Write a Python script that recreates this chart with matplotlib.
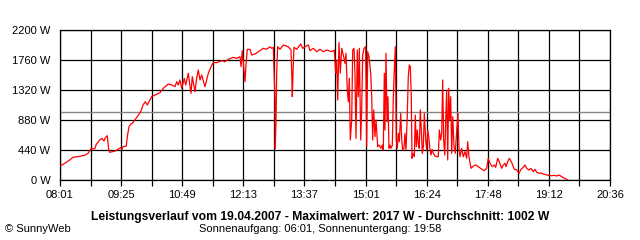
import matplotlib
matplotlib.use("Agg")
import matplotlib.pyplot as plt

plt.rcParams["font.family"] = ["Liberation Sans", "DejaVu Sans"]

# Zeit in Minuten seit Mitternacht, Leistung in W
time_min = [
    482.0, 487.5, 494.3, 498.8, 508.0, 514.9, 519.4, 524.0, 528.6, 530.8,
    535.5, 538.7, 541.4, 543.2, 545.9, 547.9, 549.2, 556.9, 560.6, 564.3,
    566.1, 567.5, 572.0, 573.4, 575.7, 578.1, 581.2, 584.4, 588.1, 590.4,
    592.6, 594.9, 598.1, 600.8, 606.9, 611.4, 618.3, 622.8, 629.7, 634.3,
    638.9, 641.2, 643.4, 645.7, 648.1, 651.6, 653.5, 657.1, 660.8, 662.6,
    666.3, 668.6, 670.8, 673.2, 675.5, 680.0, 684.6, 688.3, 691.4, 696.1,
    703.0, 707.5, 712.0, 718.9, 723.6, 728.1, 729.5, 731.2, 732.6, 735.0,
    736.3, 738.1, 741.8, 744.2, 748.7, 755.5, 760.1, 764.7, 769.3, 771.6,
    773.8, 776.1, 776.5, 777.5, 778.5, 779.8, 783.0, 787.5, 794.4, 798.1,
    799.1, 799.9, 800.8, 802.2, 805.9, 811.4, 814.2, 817.3, 821.8, 824.2,
    828.7, 833.4, 837.9, 842.4, 847.1, 853.9, 857.5, 859.5, 860.8, 862.2,
    864.0, 865.8, 867.7, 869.9, 872.2, 873.6, 875.4, 876.8, 878.1, 879.5,
    881.4, 882.8, 884.6, 885.9, 887.3, 889.1, 890.5, 891.9, 893.8, 895.1,
    896.5, 898.3, 900.6, 902.0, 903.4, 905.2, 907.5, 908.9, 910.2, 911.6,
    913.4, 914.8, 917.1, 918.9, 921.6, 923.4, 924.8, 926.2, 927.1, 928.5,
    929.9, 931.2, 932.6, 934.0, 935.4, 937.2, 938.5, 939.9, 941.3, 942.6,
    944.0, 945.4, 946.8, 948.7, 950.1, 951.4, 953.2, 954.6, 956.0, 957.7,
    959.1, 960.5, 961.9, 963.2, 964.2, 965.6, 967.4, 968.7, 970.1, 971.5,
    972.8, 974.2, 975.6, 977.0, 978.4, 979.7, 981.1, 983.0, 984.4, 985.8,
    987.1, 988.9, 990.3, 991.7, 993.5, 995.8, 998.1, 1000.3, 1001.7, 1003.6,
    1005.0, 1006.3, 1007.7, 1009.1, 1010.5, 1011.8, 1013.2, 1014.6, 1016.0, 1017.3,
    1018.7, 1020.1, 1021.9, 1023.6, 1025.6, 1027.3, 1028.7, 1030.1, 1032.4, 1034.6,
    1036.9, 1039.3, 1040.6, 1042.4, 1045.2, 1048.3, 1051.6, 1055.2, 1059.9, 1063.4,
    1066.7, 1068.9, 1071.3, 1074.4, 1077.2, 1079.1, 1081.8, 1084.0, 1087.3, 1089.5,
    1091.9, 1093.2, 1095.6, 1097.8, 1101.1, 1104.6, 1107.9, 1111.1, 1113.8, 1117.0,
    1119.3, 1121.6, 1124.8, 1127.6, 1130.7, 1133.0, 1135.4, 1138.5, 1141.3, 1144.4,
    1147.7, 1151.3, 1155.9, 1159.1, 1162.8, 1166.4, 1169.7, 1172.8, 1175.6, 1177.9,
]
power_w = [
    210, 245, 293, 333, 347, 362, 391, 465, 455, 523,
    587, 611, 572, 621, 650, 440, 406, 425, 450, 474,
    450, 489, 499, 635, 782, 817, 841, 890, 943, 978,
    1022, 1100, 1149, 1100, 1222, 1247, 1281, 1345, 1408, 1393,
    1369, 1442, 1393, 1467, 1345, 1491, 1393, 1565, 1271, 1516,
    1295, 1491, 1613, 1467, 1540, 1369, 1565, 1662, 1721, 1721,
    1750, 1735, 1770, 1799, 1784, 1809, 1662, 1897, 1735, 1442,
    1687, 1917, 1917, 1833, 1848, 1897, 1931, 1917, 1955, 1931,
    1946, 1183, 465, 855, 1589, 1955, 1917, 1980, 1955, 1907,
    1574, 1222, 1565, 1946, 1917, 1995, 1931, 1955, 1980, 1897,
    1931, 1882, 1917, 1882, 1907, 1882, 1907, 1565, 1760, 1173,
    2017, 1565, 1931, 1833, 1711, 1858, 1320, 1149, 1491, 587,
    880, 1907, 1931, 1565, 611, 1907, 1222, 1931, 587, 1027,
    1833, 1931, 1955, 489, 1882, 1809, 1565, 1222, 587, 1027,
    636, 880, 489, 513, 465, 513, 440, 1565, 733, 1858,
    855, 1222, 465, 513, 465, 513, 1198, 1613, 1955, 587,
    465, 685, 562, 978, 587, 440, 465, 685, 440, 953,
    1516, 1687, 1662, 1222, 318, 391, 342, 953, 489, 733,
    538, 465, 1027, 733, 391, 489, 978, 587, 440, 733,
    636, 440, 367, 450, 391, 352, 342, 342, 733, 587,
    685, 1467, 587, 367, 855, 1320, 293, 1345, 880, 1222,
    391, 929, 489, 391, 733, 978, 465, 342, 465, 342,
    416, 318, 562, 342, 171, 205, 220, 196, 157, 137,
    171, 318, 245, 196, 220, 186, 318, 269, 171, 220,
    245, 196, 269, 318, 254, 157, 147, 98, 157, 186,
    220, 171, 147, 171, 122, 157, 113, 98, 103, 88,
    78, 68, 63, 68, 59, 73, 49, 29, 15, 5,
]

x_start, x_end = 481, 1236
x_labels = ["08:01", "09:25", "10:49", "12:13", "13:37", "15:01",
            "16:24", "17:48", "19:12", "20:36"]
y_values = [0, 440, 880, 1320, 1760, 2200]
y_labels = ["0 W", "440 W", "880 W", "1320 W", "1760 W", "2200 W"]
average_w = 1002

fig = plt.figure(figsize=(6.4, 2.4), dpi=100)
ax = fig.add_axes([60 / 640, 60 / 240, 550 / 640, 150 / 240])

step = (x_end - x_start) / (len(x_labels) - 1)
major = [x_start + i * step for i in range(len(x_labels))]
minor = [x_start + (i + 0.5) * step for i in range(len(x_labels) - 1)]

ax.set_xlim(x_start, x_end)
ax.set_ylim(0, 2200)
ax.set_xticks(major)
ax.set_xticklabels(x_labels, fontsize=8)
ax.set_xticks(minor, minor=True)
ax.set_yticks(y_values)
ax.set_yticklabels(y_labels, fontsize=8)

ax.grid(True, which="both", color="black", linewidth=0.9)
ax.tick_params(axis="x", which="both", length=4, width=0.9, direction="out", pad=3)
ax.tick_params(axis="y", length=0, pad=7)
for s in ax.spines.values():
    s.set_linewidth(0.9)

ax.axhline(average_w, color="#848484", linewidth=1.0, zorder=2.5)
ax.plot(time_min, power_w, color="#ff0000", linewidth=0.9, zorder=3)

fig.text(0.5, 1 - 217 / 240,
         "Leistungsverlauf vom 19.04.2007 - Maximalwert: 2017 W - Durchschnitt: 1002 W",
         ha="center", va="center", fontsize=8.75, fontweight="bold")
fig.text(0.5, 1 - 229 / 240, "Sonnenaufgang: 06:01, Sonnenuntergang: 19:58",
         ha="center", va="center", fontsize=8)
fig.text(5 / 640, 1 - 229 / 240, "© SunnyWeb", ha="left", va="center", fontsize=8)

fig.savefig("out.png", dpi=100, facecolor="white")
